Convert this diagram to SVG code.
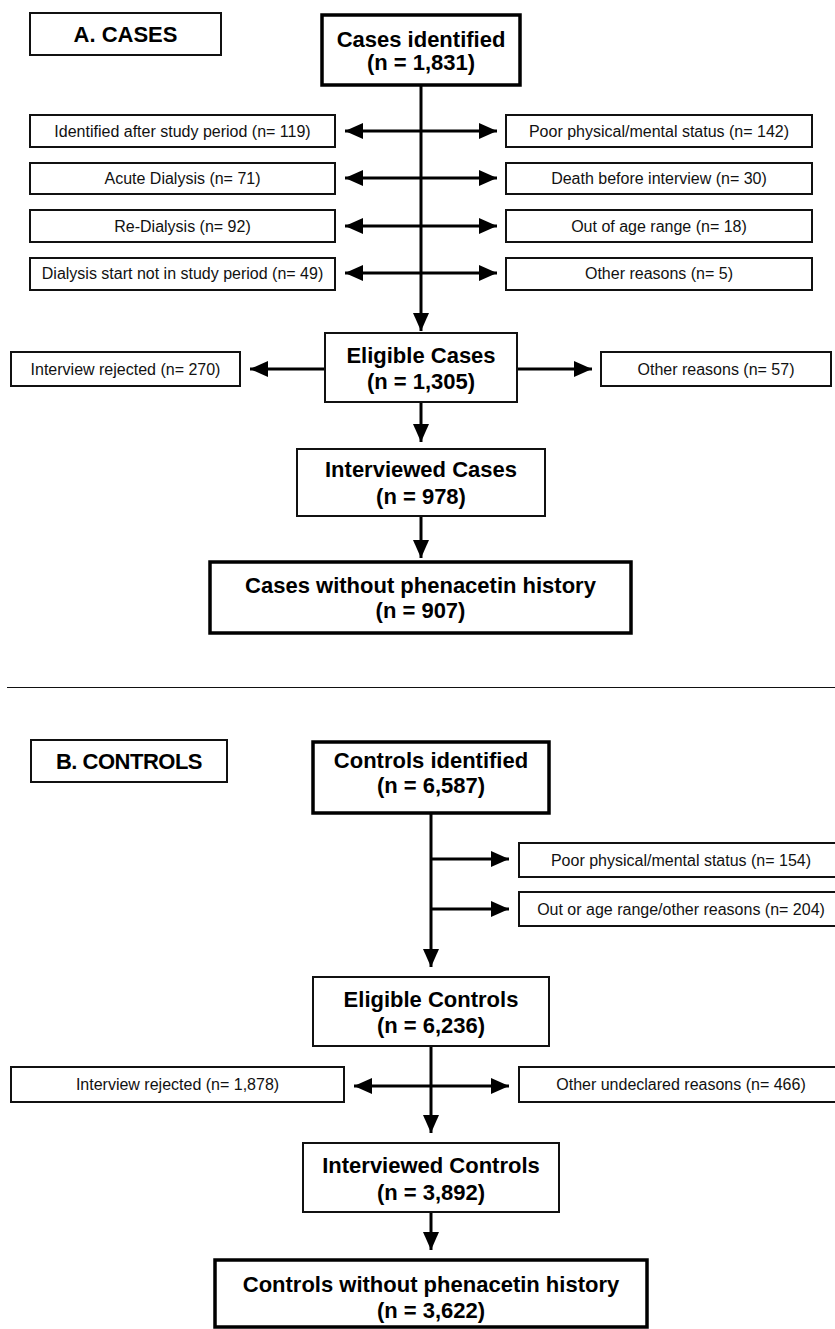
<svg xmlns="http://www.w3.org/2000/svg" width="835" height="1329" viewBox="0 0 835 1329">
<defs>
<marker id="ah" markerUnits="userSpaceOnUse" viewBox="0 0 18 16" markerWidth="18" markerHeight="16" refX="18" refY="8" orient="auto">
<path d="M0,0 L18,8 L0,16 Z" fill="#000"/>
</marker>
<style>
.box{fill:#fff;stroke:#111;stroke-width:2}
.thick{fill:#fff;stroke:#000;stroke-width:3.5}
.sm{font-family:"Liberation Sans",Arial,Helvetica,sans-serif;font-size:16px;fill:#111;text-anchor:middle}
.bd{font-family:"Liberation Sans",Arial,Helvetica,sans-serif;font-size:22px;font-weight:bold;fill:#000;text-anchor:middle}
.ar{fill:none;stroke:#000;stroke-width:3;marker-end:url(#ah)}
</style>
</defs>
<rect width="835" height="1329" fill="#fff"/>

<g id="connectors">
<line class="ar" x1="421" y1="85" x2="421" y2="331"/>
<line class="ar" x1="421" y1="131" x2="345" y2="131"/>
<line class="ar" x1="421" y1="131" x2="497" y2="131"/>
<line class="ar" x1="421" y1="178" x2="345" y2="178"/>
<line class="ar" x1="421" y1="178" x2="497" y2="178"/>
<line class="ar" x1="421" y1="226" x2="345" y2="226"/>
<line class="ar" x1="421" y1="226" x2="497" y2="226"/>
<line class="ar" x1="421" y1="273" x2="345" y2="273"/>
<line class="ar" x1="421" y1="273" x2="497" y2="273"/>
<line class="ar" x1="325" y1="369" x2="250" y2="369"/>
<line class="ar" x1="517" y1="369" x2="592" y2="369"/>
<line class="ar" x1="421" y1="402" x2="421" y2="442"/>
<line class="ar" x1="421" y1="516" x2="421" y2="558"/>

<line class="ar" x1="431" y1="813" x2="431" y2="967"/>
<line class="ar" x1="431" y1="859" x2="509" y2="859"/>
<line class="ar" x1="431" y1="909" x2="509" y2="909"/>
<line class="ar" x1="431" y1="1046" x2="431" y2="1133"/>
<line class="ar" x1="431" y1="1086" x2="354" y2="1086"/>
<line class="ar" x1="431" y1="1086" x2="509" y2="1086"/>
<line class="ar" x1="431" y1="1212" x2="431" y2="1250"/>
</g>

<line id="separator" x1="7" y1="687.5" x2="835" y2="687.5" stroke="#111" stroke-width="1"/>

<g id="labelA"><rect class="box" x="30" y="13" width="191" height="42"/><text class="bd" x="125.5" y="42">A. CASES</text></g>
<g id="casesIdentified"><rect class="thick" x="322" y="15" width="198" height="70"/><text class="bd" x="421" y="47">Cases identified</text><text class="bd" x="421" y="70">(n = 1,831)</text></g>

<g id="exA1"><rect class="box" x="30" y="115" width="305" height="32"/><text class="sm" x="182.5" y="136.5">Identified after study period (n= 119)</text></g>
<g id="exA2"><rect class="box" x="30" y="163" width="305" height="31"/><text class="sm" x="182.5" y="184">Acute Dialysis (n= 71)</text></g>
<g id="exA3"><rect class="box" x="30" y="210" width="305" height="32"/><text class="sm" x="182.5" y="231.5">Re-Dialysis (n= 92)</text></g>
<g id="exA4"><rect class="box" x="30" y="258" width="305" height="32"/><text class="sm" x="182.5" y="279">Dialysis start not in study period (n= 49)</text></g>
<g id="exA5"><rect class="box" x="506" y="115" width="306" height="32"/><text class="sm" x="659" y="136.5">Poor physical/mental status (n= 142)</text></g>
<g id="exA6"><rect class="box" x="506" y="163" width="306" height="31"/><text class="sm" x="659" y="184">Death before interview (n= 30)</text></g>
<g id="exA7"><rect class="box" x="506" y="210" width="306" height="32"/><text class="sm" x="659" y="231.5">Out of age range (n= 18)</text></g>
<g id="exA8"><rect class="box" x="506" y="258" width="306" height="32"/><text class="sm" x="659" y="279">Other reasons (n= 5)</text></g>

<g id="eligibleCases"><rect class="box" x="325" y="333" width="192" height="69"/><text class="bd" x="421" y="363">Eligible Cases</text><text class="bd" x="421" y="389">(n = 1,305)</text></g>
<g id="rejA"><rect class="box" x="11" y="352" width="229" height="34"/><text class="sm" x="125.5" y="374.5">Interview rejected (n= 270)</text></g>
<g id="otherA"><rect class="box" x="601" y="352" width="230" height="34"/><text class="sm" x="716" y="374.5">Other reasons (n= 57)</text></g>
<g id="interviewedCases"><rect class="box" x="297" y="449" width="248" height="67"/><text class="bd" x="421" y="477">Interviewed Cases</text><text class="bd" x="421" y="504">(n = 978)</text></g>
<g id="finalCases"><rect class="thick" x="210" y="562" width="421" height="71"/><text class="bd" x="420.5" y="593">Cases without phenacetin history</text><text class="bd" x="420.5" y="618">(n = 907)</text></g>

<g id="labelB"><rect class="box" x="31" y="740" width="196" height="42"/><text class="bd" x="129" y="769" letter-spacing="-0.5">B. CONTROLS</text></g>
<g id="controlsIdentified"><rect class="thick" x="313" y="742" width="236" height="71"/><text class="bd" x="431" y="768">Controls identified</text><text class="bd" x="431" y="793">(n = 6,587)</text></g>
<g id="exB1"><rect class="box" x="519" y="843" width="324" height="34"/><text class="sm" x="681" y="865.5">Poor physical/mental status (n= 154)</text></g>
<g id="exB2"><rect class="box" x="519" y="892" width="324" height="34"/><text class="sm" x="681" y="914.5">Out or age range/other reasons (n= 204)</text></g>
<g id="eligibleControls"><rect class="box" x="313" y="977" width="236" height="69"/><text class="bd" x="431" y="1007">Eligible Controls</text><text class="bd" x="431" y="1033">(n = 6,236)</text></g>
<g id="rejB"><rect class="box" x="11" y="1067" width="333" height="35"/><text class="sm" x="177.5" y="1090">Interview rejected (n= 1,878)</text></g>
<g id="otherB"><rect class="box" x="519" y="1067" width="324" height="35"/><text class="sm" x="681" y="1090">Other undeclared reasons (n= 466)</text></g>
<g id="interviewedControls"><rect class="box" x="303" y="1143" width="256" height="69"/><text class="bd" x="431" y="1173">Interviewed Controls</text><text class="bd" x="431" y="1200">(n = 3,892)</text></g>
<g id="finalControls"><rect class="thick" x="215" y="1260" width="432" height="67"/><text class="bd" x="431" y="1292">Controls without phenacetin history</text><text class="bd" x="431" y="1318">(n = 3,622)</text></g>
</svg>
